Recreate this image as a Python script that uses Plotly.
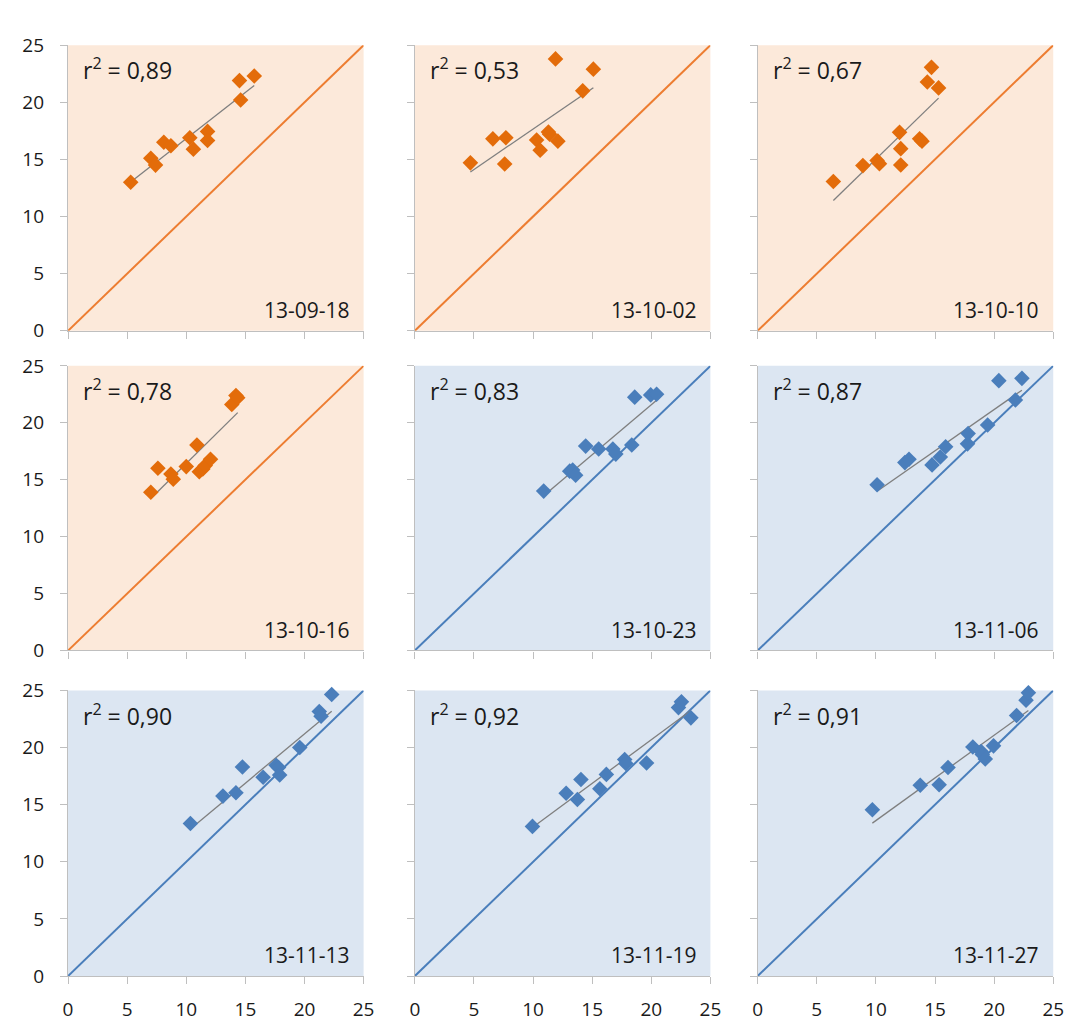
import numpy as np
import plotly.graph_objects as go

# Measurement dates, one panel each
dates = ["13-09-18", "13-10-02", "13-10-10",
         "13-10-16", "13-10-23", "13-11-06",
         "13-11-13", "13-11-19", "13-11-27"]
r2_labels = ["0,89", "0,53", "0,67", "0,78", "0,83", "0,87", "0,90", "0,92", "0,91"]
# period of each panel: "a" = autumn start, "b" = late season
period = ["a", "a", "a", "a", "b", "b", "b", "b", "b"]

x_0918 = [5.3, 7.0, 7.4, 8.1, 8.7, 10.3, 10.6, 11.8, 11.8, 14.5, 14.6, 15.75]
y_0918 = [13.0, 15.1, 14.5, 16.5, 16.2, 16.9, 15.9, 17.45, 16.65, 21.9, 20.2, 22.3]

x_1002 = [4.7, 6.6, 7.7, 7.6, 10.3, 10.6, 11.3, 11.4, 12.1, 11.9, 14.2, 15.1]
y_1002 = [14.7, 16.8, 16.9, 14.6, 16.7, 15.8, 17.4, 17.2, 16.6, 23.8, 21.0, 22.9]

x_1010 = [6.4, 8.9, 10.1, 10.3, 12.0, 12.1, 12.1, 13.7, 13.9, 14.7, 14.35, 15.3]
y_1010 = [13.06, 14.46, 14.9, 14.63, 17.37, 15.94, 14.51, 16.8, 16.6, 23.06, 21.77, 21.26]

x_1016 = [7.0, 7.6, 8.7, 8.9, 10.0, 10.9, 11.1, 11.4, 11.6, 12.05, 13.85, 14.2, 14.35]
y_1016 = [13.9, 16.0, 15.5, 15.05, 16.15, 18.05, 15.7, 15.95, 16.25, 16.8, 21.6, 22.4, 22.2]

x_1023 = [10.9, 13.1, 13.35, 13.6, 14.45, 15.55, 16.75, 17.0, 18.35, 18.6, 19.95, 20.45]
y_1023 = [14.0, 15.75, 15.85, 15.4, 17.95, 17.7, 17.7, 17.25, 18.05, 22.25, 22.45, 22.5]

x_1106 = [10.1, 12.45, 12.8, 14.75, 15.45, 15.9, 17.75, 17.8, 19.45, 20.4, 21.8, 22.35]
y_1106 = [14.55, 16.5, 16.8, 16.3, 17.0, 17.9, 18.15, 19.05, 19.8, 23.7, 22.0, 23.9]

x_1113 = [10.35, 13.1, 14.2, 14.75, 16.5, 17.6, 17.8, 17.9, 19.6, 21.25, 21.4, 22.3]
y_1113 = [13.35, 15.75, 16.05, 18.3, 17.4, 18.45, 18.25, 17.6, 20.0, 23.15, 22.75, 24.65]

x_1119 = [9.95, 12.8, 13.75, 14.05, 15.65, 16.2, 17.75, 17.85, 19.6, 22.3, 22.55, 23.35]
y_1119 = [13.1, 16.0, 15.45, 17.2, 16.4, 17.65, 18.95, 18.6, 18.65, 23.5, 24.0, 22.6]

x_1127 = [9.7, 13.75, 15.35, 16.1, 18.2, 18.9, 19.0, 19.25, 19.95, 21.9, 22.7, 22.9]
y_1127 = [14.55, 16.7, 16.75, 18.25, 20.05, 19.65, 19.4, 19.0, 20.15, 22.8, 24.15, 24.8]

xs = [x_0918, x_1002, x_1010, x_1016, x_1023, x_1106, x_1113, x_1119, x_1127]
ys = [y_0918, y_1002, y_1010, y_1016, y_1023, y_1106, y_1113, y_1119, y_1127]

axis_max = 25
tick_vals = [0, 5, 10, 15, 20, 25]

# ---- styling ----
W, H = 1080, 1029
col_px = [(64, 364), (416, 716), (764, 1064)]
row_px = [(33, 326), (362, 654), (695, 988)]
palette = {
    "a": dict(bg="#FCE9DA", diag="#ED7D31", marker="#E36C0A"),
    "b": dict(bg="#DCE6F2", diag="#4A7EBB", marker="#4A7EBB"),
}
font = "Open Sans"
text_color = "#1A1A1A"
axis_color = "#BFBFBF"

fig = go.Figure()
shapes, annotations = [], []

for i in range(9):
    r, c = divmod(i, 3)
    n = i + 1
    sfx = "" if n == 1 else str(n)
    xa, ya = "x" + sfx, "y" + sfx
    col = palette[period[i]]

    x = np.array(xs[i])
    y = np.array(ys[i])

    # 1:1 reference line
    fig.add_trace(go.Scatter(x=[0, axis_max], y=[0, axis_max], mode="lines",
                             line=dict(color=col["diag"], width=2),
                             xaxis=xa, yaxis=ya, showlegend=False, hoverinfo="skip"))
    # linear trend line
    slope, icpt = np.polyfit(x, y, 1)
    tx = np.array([x.min(), x.max()])
    fig.add_trace(go.Scatter(x=tx, y=slope * tx + icpt, mode="lines",
                             line=dict(color="#7F7F7F", width=1.3),
                             xaxis=xa, yaxis=ya, showlegend=False, hoverinfo="skip"))
    # observations
    fig.add_trace(go.Scatter(x=x, y=y, mode="markers", cliponaxis=False,
                             marker=dict(symbol="diamond", size=12, color=col["marker"],
                                         line=dict(width=0)),
                             xaxis=xa, yaxis=ya, showlegend=False))

    x0, x1 = col_px[c]
    y0, y1 = row_px[r]
    common = dict(range=[0, axis_max], tickvals=tick_vals, showgrid=False, zeroline=False,
                  showline=True, linecolor=axis_color, linewidth=1.3,
                  ticks="outside", ticklen=7, tickcolor=axis_color, tickwidth=1.3,
                  tickfont=dict(family=font, size=19, color=text_color),
                  fixedrange=True)
    fig.layout["xaxis" + sfx] = dict(common, domain=[x0 / W, x1 / W], anchor=ya,
                                     showticklabels=(r == 2), ticklabelstandoff=9)
    fig.layout["yaxis" + sfx] = dict(common, domain=[1 - y1 / H, 1 - y0 / H], anchor=xa,
                                     showticklabels=(c == 0), ticklabelstandoff=12)

    shapes.append(dict(type="rect", xref=xa + " domain", yref=ya + " domain",
                       x0=0, x1=1, y0=0, y1=1, fillcolor=col["bg"],
                       line=dict(width=0), layer="below"))

    annotations.append(dict(xref=xa + " domain", yref=ya + " domain",
                            x=0.045, y=0.915, xanchor="left", yanchor="middle",
                            text="r<sup>2</sup> = " + r2_labels[i], showarrow=False,
                            font=dict(family=font, size=23, color=text_color)))
    annotations.append(dict(xref=xa + " domain", yref=ya + " domain",
                            x=0.96, y=0.072, xanchor="right", yanchor="middle",
                            text=dates[i], showarrow=False,
                            font=dict(family=font, size=21, color=text_color)))

fig.update_layout(width=W, height=H, margin=dict(l=0, r=0, t=0, b=0),
                  paper_bgcolor="white", plot_bgcolor="rgba(0,0,0,0)",
                  shapes=shapes, annotations=annotations, showlegend=False)

fig.write_html("out.html", config={"displayModeBar": False})
